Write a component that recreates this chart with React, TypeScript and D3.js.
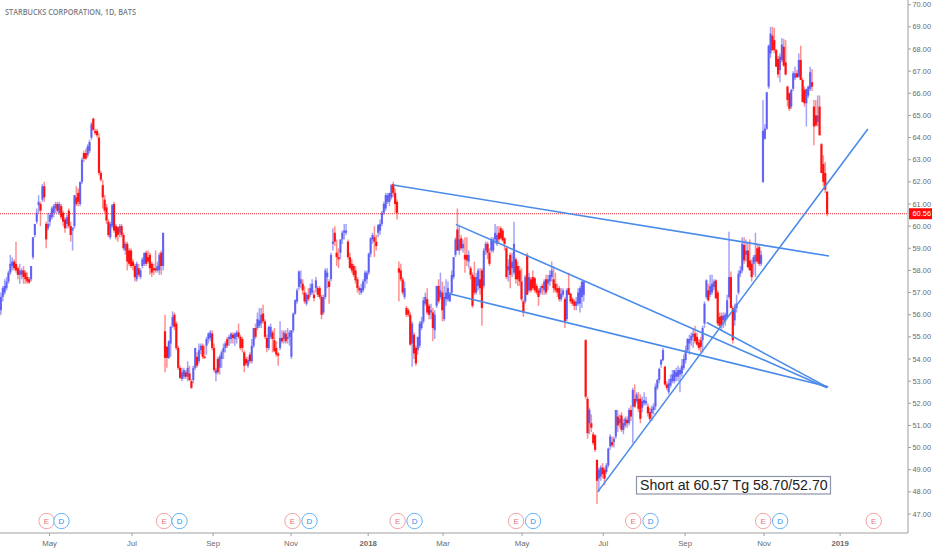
import React from 'react';
import * as d3 from 'd3';

type Bar = [number, number, number, number]; // open, high, low, close

const title = 'STARBUCKS CORPORATION, 1D, BATS';
const noteText = 'Short at 60.57 Tg 58.70/52.70';
const lastPrice = 60.56;

const priceTicks = [47, 48, 49, 50, 51, 52, 53, 54, 55, 56, 57, 58, 59, 60, 61, 62, 63, 64, 65, 66, 67, 68, 69, 70];
const monthLabels = ['May', 'Jul', 'Sep', 'Nov', '2018', 'Mar', 'May', 'Jul', 'Sep', 'Nov', '2019'];
const monthBars = [26.8, 70.5, 113.5, 154.8, 195.7, 235.4, 277.3, 320.3, 363.7, 405.6, 445.9];
const earningsBars = [25.2, 87.5, 155.6, 211.3, 274.1, 336.2, 405.1, 463.7];
const dividendBars = [33.1, 95.7, 164.6, 220.3, 283.1, 345.4, 414.1];

const bars2017a: Bar[] = [
  [56.2,56.3,55.8,55.9],[56.2,57,56,56.8],[56.8,57.3,56.6,57.2],[57,57.6,56.9,57.3],[57.2,57.7,57.1,57.5],[57.5,58,57.4,57.9],
  [57.9,58.7,57.8,58.3],[58.2,58.6,58,58.4],[58.4,58.5,58,58.1],[58.3,59.3,57.9,58],[58.1,58.2,57.6,57.8],[57.8,58.3,57.4,58],
  [57.8,58.1,57.6,58],[58,58.2,57.4,57.7],[57.9,58,57.4,57.6],[57.7,57.9,57.4,57.5],[57.6,57.7,57.4,57.45],[57.6,58.2,57.5,58.2],
  [58.6,59.5,58.5,59.5],[59.6,60.1,59.5,60.1],[60.2,60.8,60.1,60.6],[60.95,61.4,60.6,61.1],[61,61.1,60,60.7],[61.2,61.9,61.1,61.8],
  [61.8,62,61.1,61.3],[60.1,60.2,59,59.4],[59.9,60.6,59.8,60.1],[60.2,60.6,60,60.5],[60.4,60.9,60.3,60.8],[60.6,61,60.4,60.9],
  [60.8,61.1,60.6,61],[61,61.1,60.6,60.7],[60.6,61.1,60.5,61],[60.9,61,60.3,60.4],[60.6,60.7,60,60.2],[60.3,60.4,59.7,59.9],
  [60.1,60.5,59.9,60.4],[60.7,60.8,59.9,60],[60,60.2,59.3,59.6],[59.8,59.9,58.9,59.95],[60,61.4,59.9,61.4],[61.3,61.8,60.9,61],
  [61.5,61.7,60.9,61.1],[61,62,60.9,62],[62,63.1,61.9,63],[63.3,63.4,62.9,63.05],[63.3,63.5,63,63.05],[63.2,63.7,63.1,63.6],
  [63.4,63.9,63.3,63.8],[64,64.7,63.9,64.6],[64.85,64.9,64.3,64.35],[64.3,64.4,64.1,64.2],[64.3,64.4,64,64.1],[64,64.2,62.3,62.4],
  [62.4,62.5,62,62.1],[61.85,62.1,60.8,61.3],[61.2,61.4,60.6,60.7],[60.85,61,60.1,60.25],[60.2,60.3,59.5,59.6],[59.5,60.2,59.4,60.1],
  [60,61,59.9,60.95],[61,61.1,59.7,59.8],[60,60.1,59.4,59.5],[59.95,60,59.3,59.6],[59.7,60.1,59.5,60],[60,60.1,59.5,59.6],
  [59.6,59.7,58.9,59],[58.9,59.3,58.7,59.2],[59.2,59.3,58,58.4],[58.9,59,58.2,58.3],[58.9,59,58.1,58.2],[58.4,58.5,58,58.2],
  [58.2,58.3,57.5,57.7],[57.6,58.4,57.5,58.3],[58.1,58.3,57.7,57.8],[57.7,58.1,57.6,58],[58.2,58.6,58.1,58.5],[58.3,58.8,58.2,58.8],
  [58.8,58.9,58.2,58.3],[58.6,58.9,58.3,58.4],[58.7,58.8,57.8,58.1],[58.3,58.4,57.7,57.9],[58.1,58.3,57.8,58],[58.1,58.9,57.9,58],
  [58,58.4,57.9,58.2],[58,58.8,57.8,58.7],[58.8,58.9,57.8,58.2],[58.2,59.7,58,59.7],
];

const bars2017b: Bar[] = [
  [55.25,56,53.4,54.05],[54.55,54.6,53.6,54.05],[54.05,54.85,54,54.8],[54.7,55.5,54.1,55.45],[55.5,56.15,55.4,55.9],[56,56.1,55.3,55.45],
  [55.6,55.7,54.4,54.5],[54.5,54.6,53.5,53.6],[53.6,53.7,53.1,53.15],[53.1,53.6,53,53.4],[53.2,53.6,53.1,53.5],[53.4,53.5,53.1,53.2],
  [53.2,53.9,53,53.6],[53.35,53.7,53,53.05],[53,53.1,52.65,52.7],[53.05,53.7,52.9,53.6],[53.6,54.5,53.5,54.5],[54.1,54.3,53.6,53.7],
  [53.9,54.7,53.8,54.4],[54.4,54.7,54.2,54.6],[54.6,54.7,54,54.1],[54.1,54.6,54,54.05],[54.6,55,54.2,54.9],[54.9,55.2,54.7,55.15],
  [54.95,55.3,54.8,55.2],[55.15,55.3,54.4,54.5],[54.5,54.7,53.4,53.5],[53.35,53.6,53,53.5],[54,54.1,53.3,53.4],[53.6,54.2,53.3,54.1],
  [54,54.4,53.6,54.3],[54.3,54.7,54,54.5],[54.5,54.8,54.3,54.7],[54.9,55,54.5,54.6],[54.9,55.1,54.6,55],[54.9,55.2,54.7,55.15],
  [55.1,55.2,54.7,54.95],[54.9,55.2,54.6,55.15],[55,55.3,54.7,55.2],[55.2,55.6,54.9,55],[55,55.1,54.4,54.5],[54.9,55,54.3,54.5],
  [54.3,54.4,53.4,53.7],[54,54.1,53.7,53.8],[53.7,54.1,53.6,53.95],[54.2,54.3,53.8,53.9],[53.9,54.9,53.8,54.6],[54.6,55.4,54.5,55.4],
  [55.4,55.6,54.9,55],[55.4,56.1,55.3,55.8],[55.5,56.3,55.4,55.75],[55.6,56.3,55.4,56],[56.05,56.45,55.6,55.7],[55.7,55.8,54.9,55],
  [54.95,55.1,54.3,54.5],[54.5,55.5,54.4,55.45],[55,55.6,54.9,55.45],[55.2,55.3,54.3,54.9],[54.85,55.4,54.3,54.35],[54.5,54.8,54.1,54.2],
  [54.25,54.3,53.7,54.15],[54.5,55.7,54.4,54.95],[54.95,55.3,54.7,54.8],[54.9,55.3,54.7,55.2],[55.15,55.3,54.7,54.8],[54.9,55.4,54.7,55],
  [55,55.3,54.6,55.2],[54.1,55.3,54,55.3],[55.3,56.1,55.2,56.05],[56.05,56.7,56,56.65],[56.6,57.2,56.5,57.1],
];

const bars2017c: Bar[] = [
  [57.25,58,57.1,57.95],[57.4,58,57.2,57.6],[57.4,57.6,56.9,57.1],[57,57.3,56.5,56.6],[56.5,57,56.4,56.9],[56.9,57.2,56.6,56.7],
  [56.9,57.4,56.8,57.2],[57,57.6,56.9,57.4],[56.9,57.1,56.6,56.75],[57.2,57.7,57,57.55],[57.2,57.3,56.8,56.9],[57.2,57.3,56.7,56.8],
  [56.8,56.9,55.8,56],[56.1,56.9,56,56.8],[56.8,58.1,56.7,58],[57.7,58.1,57.2,57.9],[57.5,57.6,56.5,57.25],[57.6,58.8,57.5,58.7],
  [59.2,59.9,58.9,59.3],[59.7,60,59.1,59.3],[58.8,59.4,58.2,58.6],[58.6,59,58.1,58.5],[58.8,59.4,58.5,59.4],[59.4,59.8,59.2,59.7],
  [59.7,60.1,59.4,59.8],[59.7,60.1,59.6,59.8],[59.3,59.4,58.5,58.6],[58.6,58.8,58.1,58.1],[58.3,58.5,57.9,58],[58.2,58.3,57.7,57.8],
  [58,58.2,57.4,57.55],[57.6,57.7,57,57.2],[57.2,57.3,56.9,57.1],[57,57.4,56.9,57.2],[57.1,57.6,57,57.5],[57.5,58,57.2,57.9],
  [57.6,58,57.4,57.9],[57.9,58.8,57.8,58.75],[58.75,59.5,58.6,59.45],[59.4,59.7,59.2,59.6],[59.5,60,58.6,59.3],[59.3,59.6,58.9,59.1],
  [59.7,60.1,59.5,60.05],[59.8,60.3,59.6,60.1],[60.1,60.7,60,60.6],[60.6,61.1,60.5,61],[60.8,61.5,60.7,61.4],[61.1,61.5,61,61.4],
  [61.1,61.5,60.9,61.5],[61.3,61.9,61.2,61.85],[61.9,62,61.3,61.5],[61.5,61.7,60.6,61],[61.1,61.2,60.3,60.6],
];

const bars2018a: Bar[] = [
  [58.1,58.4,56.6,57.9],[58,58.3,57.5,57.6],[57.6,57.7,56.9,57],[56.8,57.5,56.7,57.2],[56.3,56.4,55.9,56],[56.2,56.3,55.9,56],
  [56,56.1,54.6,54.65],[54.7,55.7,53.65,55.6],[55.1,55.2,54,54.25],[54.5,54.6,53.7,53.8],[54.4,55,54.2,55],[54.6,55.7,54.5,55.6],
  [55.4,55.9,55.3,55.7],[55.7,56.8,55.6,56.65],[56.5,57,56.4,56.8],[56.7,57.2,56,56.1],[56.4,56.5,55.8,56],[56.1,56.5,55.8,56.2],
  [56.1,56.3,54.8,55.4],[55.3,56.2,54.9,56],[56.4,57.3,56.3,57.3],[57.3,57.6,56.5,56.6],[56.8,57.9,56.7,57.1],[57,57.5,55.7,56.2],
  [55.8,57.3,55.7,56.8],[56.7,57.6,56.4,57],[56.7,57.5,56.6,57.2],[56.6,57,56.6,57],[57,58,56.9,57.8],[57.7,58.6,57.6,58.6],
  [58.7,59.5,58.6,59.4],
];

const bars2018b: Bar[] = [
  [59.85,60.8,58.9,58.9],[58.9,60,58.7,59.4],[59.45,59.6,58.9,59],[59,59.4,58.8,59.2],[58.7,59.5,57.9,58.5],[58.7,59.5,58.2,58.45],
  [58.4,58.9,58.1,58.7],[58.1,58.2,57.6,57.8],[57.8,57.9,56.3,56.4],[57.7,58.4,56.9,57],[57,57.9,56.9,57.7],[57.3,58.1,57.1,58],
  [57.6,58.1,56.9,57.2],[58,58.1,55.5,56.3],[57.3,59,57.2,58.9],[58.9,59.3,58.7,59.2],[59.2,59.3,58.5,58.8],[58.8,59,58.2,58.3],
  [58.9,59.5,58.8,59.4],[58.9,59.5,58.8,59.4],[59.4,60.1,59.2,59.7],[59.2,60,59.1,59.6],[59.7,60,59.2,59.4],[59.9,60,59.4,59.45],
  [59.8,59.9,59.3,59.35],[59.45,59.5,58.9,59.2],[59,59.1,57.6,57.7],[58,58.5,57.5,58.2],[58.7,58.8,57.2,57.8],[58.1,58.8,57.7,58.4],
  [57.9,60.2,57.8,59.2],[58.5,58.6,57.4,57.6],[58.2,58.4,57.3,57.6],[58,58.2,57.3,57.5],[57.5,58.1,56.6,56.7],[56.6,56.7,55.9,56.1],
  [56.6,57.8,56.5,57.7],[58.7,58.8,56.9,56.9],[57.1,57.9,57,57.7],[57.6,57.7,57,57.1],[57.7,58,57.1,57.2],[57.65,57.7,57,57.1],
  [57.3,57.4,56.9,57],[57.1,57.2,56.4,56.8],[57,57.3,56.9,57.2],[57.3,57.4,56.9,57.2],[57.1,57.6,56.9,57.5],[57.6,57.8,56.9,57],
  [57.4,57.8,57.1,57.6],[57.5,58,57.3,57.8],[57.7,58.4,57.5,58],[57.6,58.2,57,57.2],[57.4,57.9,57,57.1],[57.2,57.4,56.8,57],
  [57.2,57.3,56.6,56.7],[56.7,57.2,56.6,56.95],[56.9,57.2,56.8,57.1],[56.7,56.8,55.4,55.7],[55.8,57.2,55.7,57.1],[57.2,57.9,56.9,56.9],
  [56.95,57,56.5,56.6],[56.7,56.8,56.4,56.5],[56.6,56.7,56.2,56.4],[56.4,56.8,56.2,56.6],[56.5,57.2,56.4,57],[56.5,57.3,56.1,57.2],
  [56.8,57.5,56.3,57.5],[56.9,57.55,56.6,57.5],
];

const bars2018c: Bar[] = [
  [54.85,54.9,52.2,52.3],[52.2,52.3,50.4,50.65],[51.1,51.8,50.6,51.7],[51.1,51.5,50.7,50.9],[50.6,50.7,50.1,50.2],[50.55,50.6,49.8,49.9],
  [49.45,49.45,47.45,48.5],[48.6,49.1,48,49],[48.7,49.2,48.5,49.1],[49.1,49.3,48.6,48.8],[49,49.1,48.3,48.6],[48.9,49.3,48.8,49.2],
  [49.2,50,49.1,49.95],[50.05,50.6,49.9,50.5],[50.25,50.5,50,50.1],[50.25,50.5,50,50.4],[50.5,51.7,50.4,51.7],[51.4,51.7,50.7,51],
  [51.1,51.5,50.9,51.3],[51.45,51.6,50.7,50.8],[50.8,51.3,50.6,51.1],[51,51.4,50.9,51.3],[51.25,51.4,50.9,51.1],[51.1,51.8,51,51.7],
  [51.7,51.9,51.2,51.4],[51.85,52.7,50.2,52.6],[52.2,52.85,51.8,51.85],[52.1,52.5,52,52.4],[52.2,52.5,51.6,51.75],[52.2,52.4,51.1,51.3],
  [51.8,52.3,51.6,52.1],[52,52.5,51.9,52.15],[52,52.3,51.9,52.1],[51.85,52,51.4,51.55],[51.6,51.8,51.2,51.3],[51.55,51.9,51.2,51.75],
  [51.7,52,51.5,51.85],[51.85,52.9,51.7,52.75],[52.7,53.1,52.6,53.05],[53.05,53.6,52.9,53.55],[53.75,54,53.6,53.95],[53.95,54.5,53.9,54.4],
  [53.65,53.7,52.8,52.85],[52.85,53,52.6,52.7],[52.5,53.1,52.4,52.9],[52.8,53.3,52.7,53.1],[53,53.5,52.9,53.3],[53,53.5,52.9,53.5],
  [53.2,53.6,53,53.4],[53.2,53.7,53,53.5],[53.3,53.6,52.5,53.5],[53.35,54,53.2,53.7],[53.6,54.2,53.5,54],[53.95,54.6,53.8,54.4],
  [54.4,54.95,54.3,54.9],
];

const bars2018d: Bar[] = [
  [54.7,55.1,54.2,54.9],[54.85,55.2,54.6,55.05],[55,55.4,54.5,55.15],[55.15,55.5,54.7,54.8],[55,55.2,54.6,54.65],[54.75,54.9,54.4,54.5],
  [54.85,55,54.3,54.55],[54.85,55.5,54.3,55.4],[55.6,56.6,55.4,56.5],[56.8,57.6,56.7,57.55],[57.1,57.4,56.6,56.65],[56.9,57.8,56.8,57.3],
  [57,57.8,56.9,57.4],[57.25,57.6,57.1,57.5],[57.55,57.6,56.7,56.75],[57,57.1,55.5,55.6],[55.9,56.1,55.4,55.5],[55.95,56.1,55.3,55.55],
  [55.75,56.1,55.4,55.95],[55.7,56.1,55.5,56],[55.9,56.9,55.8,56.65],[56.8,59.75,56.7,57.7],[57.7,57.95,56.3,56.3],[56.3,56.4,54.7,54.85],
  [55.75,56.5,55.5,56.3],[56.3,56.9,56.1,56.5],[57,58,56.9,57.85],[57.85,58.2,57.7,58],[58,59.5,57.9,59.2],[59.15,59.5,58.3,58.45],
  [58.7,59.4,58.4,58.9],[58.9,59.3,58.1,58.15],[58.45,59.4,58,58],[58.3,58.5,57.5,57.7],[58.3,58.7,57.8,58.6],[58.4,59.7,57.7,58.7],
  [59,59.2,58.3,58.4],[59.05,59.15,58.2,58.3],[58.3,58.9,58.2,58.7],
];

const bars2018e: Bar[] = [
  [62,65.7,61.95,64.3],[63.95,64.6,63.9,64.4],[64.4,66.05,64.35,66.05],[66.3,68.2,66.2,68.15],[67.8,69,67.6,68.7],[68.6,69,67.9,67.95],
  [68.4,68.95,67.8,67.95],[67.95,68,67.2,67.2],[67.55,67.7,66.7,66.85],[67.05,67.8,66.5,67.65],[67.5,68.5,67.4,68.2],[68.1,68.45,67.2,67.25],
  [67.4,68.4,66.8,66.85],[66.3,66.35,65.4,65.7],[66,66.05,65.2,65.3],[65.4,66.2,65.3,66.15],[66.2,67,66.1,66.9],[66.7,67.2,66.6,66.9],
  [66.9,67.05,66.7,66.72],[66.75,67.8,66.7,67.5],[67.5,68.15,66.6,66.6],[66.6,66.7,65.6,65.6],[66.15,66.3,65.4,65.55],[65.55,66.2,64.5,66.2],
  [65.9,66.35,65.8,66.3],[66.2,67.2,66.1,66.95],[66.5,67.1,66.1,66.3],[65.4,65.7,63.65,64.5],[65,65.7,64.5,64.55],[64.7,65.9,64.5,65],[65.4,65.9,64.1,64.1],
  [63.7,63.75,62.4,62.4],[62.8,63.2,61.8,62],[62.4,62.9,61.5,61.65],[61.55,61.6,60.45,60.56],
];

const bars: Bar[] = [...bars2017a, ...bars2017b, ...bars2017c, ...bars2018a, ...bars2018b, ...bars2018c, ...bars2018d, ...bars2018e];

// trend lines as [bar, price] pairs
const resistanceLine = [[208.9, 61.86], [440, 58.65]];
const channelTop = [[242.2, 60.08], [438.9, 52.7]];
const channelBottom = [[238.2, 56.96], [439.6, 52.75]];
const fanLine = [[375.2, 55.65], [439.3, 52.72]];
const supportLine = [[317.4, 48.0], [460.6, 64.39]];
const trendLines = [resistanceLine, channelTop, channelBottom, fanLine, supportLine];

const width = 932;
const height = 550;
const plotRight = 908;
const plotBottom = 533;

const x = d3.scaleLinear().domain([0, 440]).range([-1, 829]);
const y = d3.scaleLinear().domain([47, 70]).range([514, 4.7]);
const line = d3.line<number[]>().x(d => x(d[0])).y(d => y(d[1]));

const upColor = '#3434f2';
const downColor = '#ff0606';
const lineColor = '#4a8bea';

const App: React.FC = () => {
  return (
    <svg width={width} height={height} style={{ position: 'absolute', left: 0, top: 0, background: '#fff' }}>
      <text x={5} y={14.5} fontFamily="'Open Sans'" fontWeight={600} fontSize={8.4} fill="#7c8087"
        textLength={131} lengthAdjust="spacingAndGlyphs">{title}</text>

      <line x1={0} x2={plotRight} y1={y(lastPrice)} y2={y(lastPrice)} stroke="#e8303a" strokeWidth={1} strokeDasharray="1 1" />

      {bars.map((b, i) => {
        const [o, h, l, c] = b;
        const up = c >= o;
        const color = up ? upColor : downColor;
        const top = y(Math.max(o, c));
        const bodyH = Math.max(1.2, Math.abs(y(o) - y(c)));
        return (
          <g key={i}>
            <line x1={x(i)} x2={x(i)} y1={y(h)} y2={y(l)} stroke={color} strokeOpacity={0.45} strokeWidth={1.5} />
            <rect x={x(i) - 1.1} y={top} width={2.2} height={bodyH} fill={color} fillOpacity={up ? 0.62 : 0.92} />
          </g>
        );
      })}

      {trendLines.map((t, i) => (
        <path key={i} d={line(t) ?? ''} fill="none" stroke={lineColor} strokeWidth={1.6} />
      ))}

      <rect x={636.5} y={476.5} width={194} height={17.5} fill="#fff" stroke="#8f95a8" strokeWidth={1.2} />
      <text x={640} y={490} fontFamily="'Liberation Sans'" fontSize={14.15} fill="#222">{noteText}</text>

      {earningsBars.map(b => (
        <g key={b}>
          <circle cx={x(b)} cy={521} r={7.7} fill="#fff" stroke="#f4a3a3" strokeWidth={1} />
          <text x={x(b)} y={524} textAnchor="middle" fontFamily="'Liberation Sans'" fontSize={8} fill="#e57373">E</text>
        </g>
      ))}
      {dividendBars.map(b => (
        <g key={b}>
          <circle cx={x(b)} cy={521} r={7.7} fill="#fff" stroke="#64b5f6" strokeWidth={1} />
          <text x={x(b)} y={524} textAnchor="middle" fontFamily="'Liberation Sans'" fontSize={8} fill="#2f8fe6">D</text>
        </g>
      ))}

      <line x1={plotRight} x2={plotRight} y1={0} y2={plotBottom} stroke="#a0a0a0" />
      <line x1={0} x2={plotRight} y1={plotBottom} y2={plotBottom} stroke="#a0a0a0" />

      {priceTicks.map(p => (
        <g key={p}>
          <line x1={plotRight} x2={plotRight + 3} y1={y(p)} y2={y(p)} stroke="#a0a0a0" />
          <text x={plotRight + 4.5} y={y(p) + 2.6} fontFamily="'Liberation Sans'" fontSize={7.4} fill="#6b6b6b">{p.toFixed(2)}</text>
        </g>
      ))}
      <rect x={plotRight + 1} y={y(lastPrice) - 5.5} width={23} height={11} fill="#ff0a0a" />
      <text x={plotRight + 4.5} y={y(lastPrice) + 2.6} fontFamily="'Liberation Sans'" fontSize={7.4} fill="#fff">{lastPrice.toFixed(2)}</text>

      {monthLabels.map((m, i) => (
        <g key={i}>
          <line x1={x(monthBars[i])} x2={x(monthBars[i])} y1={plotBottom} y2={plotBottom + 3} stroke="#a0a0a0" />
          <text x={x(monthBars[i])} y={546} textAnchor="middle" fontFamily="'Liberation Sans'" fontSize={7.8}
            fontWeight={m.startsWith('20') ? 700 : 400} fill="#6b6b6b">{m}</text>
        </g>
      ))}
    </svg>
  );
};

export default App;
